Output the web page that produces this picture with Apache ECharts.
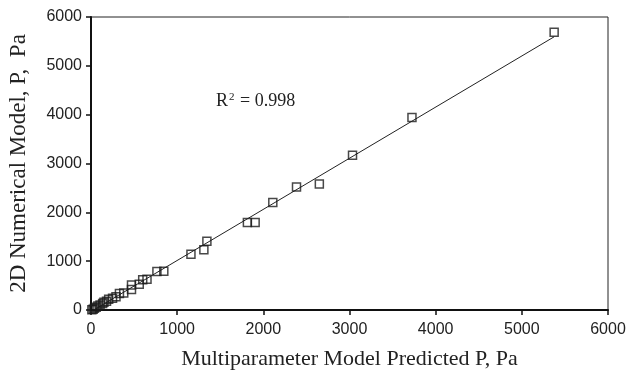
<!DOCTYPE html>
<html>
<head>
<meta charset="utf-8">
<script src="https://cdn.jsdelivr.net/npm/echarts@6/dist/echarts.min.js"></script>
<style>html,body{margin:0;padding:0;background:#fff;}#c{width:628px;height:370px;}</style>
</head>
<body>
<div id="c"></div>
<script>
// Multiparameter model predicted P (Pa)
var predicted = [5375, 3725, 3035, 2650, 2385, 2110, 1905, 1815, 1345, 1310, 1160, 845, 765, 650, 600, 560, 470, 470, 380, 330, 290, 250, 205, 180, 150, 135, 105, 80, 60, 40, 25, 10];
// 2D numerical model P (Pa)
var numerical = [5690, 3940, 3170, 2580, 2520, 2200, 1790, 1790, 1410, 1235, 1140, 795, 790, 630, 620, 525, 510, 420, 350, 340, 270, 240, 220, 180, 160, 135, 100, 80, 55, 35, 15, 5];
var xTicks = [0, 1000, 2000, 3000, 4000, 5000, 6000];
var yTicks = [0, 1000, 2000, 3000, 4000, 5000, 6000];
var r2Text = '0.998';

var pts = predicted.map(function (x, i) { return [x, numerical[i]]; });
// least squares fit
var n = pts.length, sx = 0, sy = 0, sxx = 0, sxy = 0;
pts.forEach(function (p) { sx += p[0]; sy += p[1]; sxx += p[0] * p[0]; sxy += p[0] * p[1]; });
var slope = (n * sxy - sx * sy) / (n * sxx - sx * sx);
var icpt = (sy - slope * sx) / n;
var xmax = Math.max.apply(null, predicted);
var fitLine = [[0, icpt], [xmax, icpt + slope * xmax]];

var plain = function (v) { return String(v); };
var chart = echarts.init(document.getElementById('c'), null, { renderer: 'canvas' });
chart.setOption({
  animation: false,
  backgroundColor: '#fff',
  grid: { left: 91, right: 20, top: 17, bottom: 60, outerBoundsMode: 'none', containLabel: false,
          show: true, borderColor: '#222', borderWidth: 1, backgroundColor: 'transparent' },
  xAxis: {
    type: 'value', min: xTicks[0], max: xTicks[xTicks.length - 1], interval: 1000,
    name: 'Multiparameter Model Predicted P, Pa', nameLocation: 'middle', nameGap: 38,
    nameTextStyle: { fontFamily: 'Liberation Serif', fontSize: 22, color: '#222' },
    axisLine: { show: true, lineStyle: { color: '#111', width: 2 } },
    axisTick: { show: true, inside: false, length: 5, lineStyle: { color: '#111', width: 1.5 } },
    axisLabel: { fontFamily: 'Liberation Sans', fontSize: 16, color: '#222', margin: 12, formatter: plain },
    splitLine: { show: false }
  },
  yAxis: {
    type: 'value', min: yTicks[0], max: yTicks[yTicks.length - 1], interval: 1000,
    name: '2D Numerical Model, P,  Pa', nameLocation: 'middle', nameGap: 61,
    nameTextStyle: { fontFamily: 'Liberation Serif', fontSize: 23, color: '#222' },
    axisLine: { show: true, lineStyle: { color: '#111', width: 2 } },
    axisTick: { show: true, inside: false, length: 5, lineStyle: { color: '#111', width: 1.5 } },
    axisLabel: { fontFamily: 'Liberation Sans', fontSize: 16, color: '#222', margin: 9, formatter: plain },
    splitLine: { show: false }
  },
  series: [
    {
      type: 'line', data: fitLine, symbol: 'none', z: 2,
      lineStyle: { color: '#222', width: 1 }
    },
    {
      type: 'scatter', data: pts, symbol: 'rect', symbolSize: 8, z: 3,
      itemStyle: { color: 'rgba(255,255,255,0)', borderColor: '#1a1a1a', borderWidth: 1.5 }
    }
  ],
  graphic: [{
    type: 'text', left: 216, top: 92,
    style: {
      text: 'R{sup|2} = ' + r2Text,
      font: '18px "Liberation Serif"', fill: '#222',
      rich: { sup: { fontFamily: 'Liberation Serif', fontSize: 11, verticalAlign: 'top', padding: [0, 1, 8, 1], fill: '#222' } }
    }
  }]
});
</script>
</body>
</html>
